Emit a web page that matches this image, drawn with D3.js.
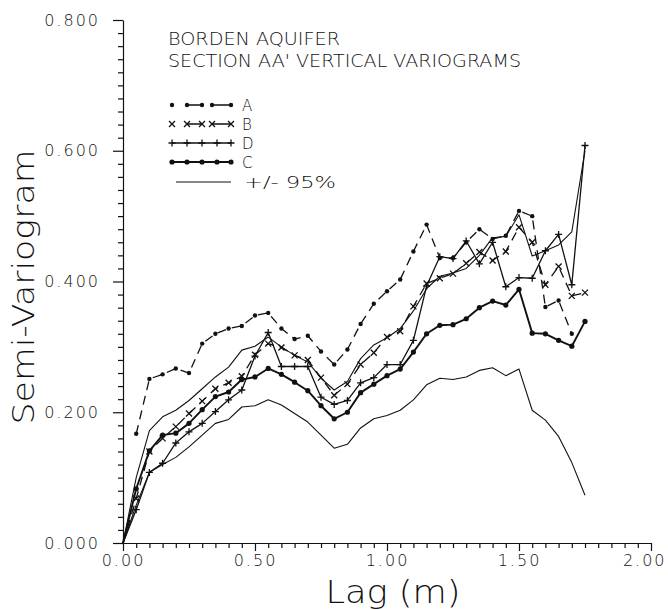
<!DOCTYPE html>
<html>
<head>
<meta charset="utf-8">
<script src="https://cdn.jsdelivr.net/npm/d3@7"></script>
<style>
  html, body { margin: 0; padding: 0; background: #fff; }
  svg { display: block; }
  text { font-family: "DejaVu Sans", "Liberation Sans", sans-serif; font-weight: 200; fill: #111; }
</style>
</head>
<body>
<svg id="chart" width="668" height="610"></svg>
<script>
// ---------------- DATA ----------------
const lags = [0.00, 0.05, 0.10, 0.15, 0.20, 0.25, 0.30, 0.35, 0.40, 0.45, 0.50, 0.55,
              0.60, 0.65, 0.70, 0.75, 0.80, 0.85, 0.90, 0.95, 1.00, 1.05, 1.10, 1.15,
              1.20, 1.25, 1.30, 1.35, 1.40, 1.45, 1.50, 1.55, 1.60, 1.65, 1.70, 1.75];

const seriesA = [null, 0.167, 0.251, 0.258, 0.267, 0.260, 0.305, 0.320, 0.328, 0.332, 0.348, 0.352,
                 0.328, 0.312, 0.317, 0.293, 0.273, 0.296, 0.335, 0.366, 0.385, 0.403, 0.446, 0.487,
                 0.436, 0.436, 0.460, 0.480, 0.465, 0.470, 0.508, 0.500, 0.361, 0.371, 0.320, null];

const seriesB = [0.000, 0.068, 0.140, 0.160, 0.178, 0.198, 0.217, 0.236, 0.245, 0.255, 0.288, 0.305,
                 0.299, 0.287, 0.280, 0.253, 0.226, 0.243, 0.273, 0.291, 0.315, 0.324, 0.362, 0.397,
                 0.405, 0.412, 0.428, 0.445, 0.432, 0.446, 0.483, 0.460, 0.395, 0.423, 0.378, 0.383];

const seriesD = [0.000, 0.051, 0.108, 0.122, 0.153, 0.170, 0.183, 0.201, 0.219, 0.234, 0.286, 0.322,
                 0.270, 0.270, 0.270, 0.223, 0.212, 0.218, 0.245, 0.253, 0.273, 0.273, 0.310, 0.393,
                 0.438, 0.435, 0.462, 0.427, 0.460, 0.392, 0.406, 0.405, 0.447, 0.472, 0.395, 0.608];

const seriesC = [0.000, 0.083, 0.141, 0.165, 0.168, 0.183, 0.204, 0.224, 0.231, 0.250, 0.254, 0.267,
                 0.258, 0.246, 0.233, 0.210, 0.190, 0.200, 0.230, 0.243, 0.256, 0.266, 0.292, 0.320,
                 0.333, 0.334, 0.343, 0.360, 0.370, 0.364, 0.388, 0.321, 0.320, 0.310, 0.301, 0.339];

const bandUpper = [0.000, 0.100, 0.172, 0.193, 0.203, 0.218, 0.236, 0.254, 0.269, 0.295, 0.301, 0.315,
                   0.300, 0.287, 0.277, 0.252, 0.234, 0.247, 0.282, 0.303, 0.314, 0.328, 0.355, 0.389,
                   0.408, 0.413, 0.420, 0.440, 0.467, 0.469, 0.502, 0.439, 0.447, 0.456, 0.476, 0.600];

const bandLower = [0.000, 0.058, 0.108, 0.120, 0.131, 0.147, 0.165, 0.183, 0.189, 0.208, 0.210, 0.219,
                   0.211, 0.198, 0.185, 0.165, 0.145, 0.151, 0.176, 0.190, 0.195, 0.203, 0.219, 0.242,
                   0.252, 0.250, 0.254, 0.264, 0.268, 0.256, 0.266, 0.203, 0.188, 0.163, 0.123, 0.073];

const xTickLabels = ["0.00", "0.50", "1.00", "1.50", "2.00"];
const yTickLabels = ["0.000", "0.200", "0.400", "0.600", "0.800"];
const legendLabels = ["A", "B", "D", "C", "+/- 95%"];
const titleLines = ["BORDEN AQUIFER", "SECTION AA' VERTICAL VARIOGRAMS"];
const xTitle = "Lag (m)";
const yTitle = "Semi-Variogram";

// ---------------- LAYOUT ----------------
const svg = d3.select("#chart");
const x = d3.scaleLinear().domain([0, 2]).range([123, 651]);
const y = d3.scaleLinear().domain([0, 0.8]).range([543, 20]);
const ink = "#111";

const xMajor = xTickLabels.map(Number);
const yMajor = yTickLabels.map(Number);
const xMinor = d3.range(0, 41).map(i => i * 0.05).filter(v => !xMajor.some(m => Math.abs(m - v) < 1e-9));
const yMinor = d3.range(0, 41).map(i => i * 0.02).filter(v => !yMajor.some(m => Math.abs(m - v) < 1e-9));

const gx = svg.append("g").attr("transform", `translate(0,${y(0)})`);
gx.call(d3.axisBottom(x).tickValues(xMajor).tickSize(8).tickSizeOuter(0)
        .tickFormat((d, i) => xTickLabels[i]).tickPadding(4));
const gxm = svg.append("g").attr("transform", `translate(0,${y(0)})`);
gxm.call(d3.axisBottom(x).tickValues(xMinor).tickSize(5).tickSizeOuter(0).tickFormat(""));
gxm.select(".domain").remove();

const gy = svg.append("g").attr("transform", `translate(${x(0)},0)`);
gy.call(d3.axisLeft(y).tickValues(yMajor).tickSize(10).tickSizeOuter(0)
        .tickFormat((d, i) => yTickLabels[i]).tickPadding(13));
const gym = svg.append("g").attr("transform", `translate(${x(0)},0)`);
gym.call(d3.axisLeft(y).tickValues(yMinor).tickSize(5).tickSizeOuter(0).tickFormat(""));
gym.select(".domain").remove();

svg.selectAll(".domain, .tick line").attr("stroke", ink).attr("stroke-width", 1.2);
[gx, gy].forEach(g => g.selectAll(".tick text")
  .attr("font-size", 16).attr("letter-spacing", 2).attr("fill", ink)
  .attr("font-family", "DejaVu Sans, Liberation Sans, sans-serif").attr("font-weight", 200));
// keep the last x label inside the picture, as in the reference
gx.selectAll(".tick text").filter((d, i) => i === xTickLabels.length - 1)
  .attr("text-anchor", "end").attr("x", 15);

// axis titles
svg.append("text").attr("x", 393).attr("y", 603).attr("text-anchor", "middle")
  .attr("font-size", 32).attr("textLength", 135).attr("lengthAdjust", "spacingAndGlyphs").text(xTitle);
svg.append("text").attr("transform", "translate(34,287) rotate(-90)").attr("text-anchor", "middle")
  .attr("font-size", 30).attr("textLength", 275).attr("lengthAdjust", "spacingAndGlyphs").text(yTitle);

// title
const titleLen = [172, 353];
titleLines.forEach((t, i) => {
  svg.append("text").attr("x", 168).attr("y", 44.5 + i * 22.5).attr("font-size", 18)
    .attr("textLength", titleLen[i]).attr("lengthAdjust", "spacingAndGlyphs").text(t);
});

// ---------------- SERIES ----------------
function pts(vals) {
  return lags.map((l, i) => ({ l, v: vals[i] }));
}
const line = d3.line().defined(d => d.v !== null).x(d => x(d.l)).y(d => y(d.v));

function marker(g, kind, cx, cy) {
  if (kind === "dot") {
    g.append("circle").attr("cx", cx).attr("cy", cy).attr("r", 2.2).attr("fill", ink);
  } else if (kind === "bigdot") {
    g.append("circle").attr("cx", cx).attr("cy", cy).attr("r", 2.6).attr("fill", ink);
  } else if (kind === "x") {
    const s = 3;
    g.append("path").attr("d", `M${cx - s},${cy - s}L${cx + s},${cy + s}M${cx - s},${cy + s}L${cx + s},${cy - s}`)
      .attr("stroke", ink).attr("stroke-width", 1.3).attr("fill", "none");
  } else if (kind === "plus") {
    const s = 3.5;
    g.append("path").attr("d", `M${cx},${cy - s}L${cx},${cy + s}M${cx - s},${cy}L${cx + s},${cy}`)
      .attr("stroke", ink).attr("stroke-width", 1.3).attr("fill", "none");
  }
}

const seriesDefs = [
  { name: "A", vals: seriesA, dash: "9,6", width: 1.3, mk: "dot" },
  { name: "B", vals: seriesB, dash: "9,6", width: 1.3, mk: "x" },
  { name: "D", vals: seriesD, dash: null, width: 1.3, mk: "plus" },
  { name: "C", vals: seriesC, dash: null, width: 1.9, mk: "bigdot" },
  { name: "upper", vals: bandUpper, dash: null, width: 1.1, mk: null },
  { name: "lower", vals: bandLower, dash: null, width: 1.1, mk: null }
];

seriesDefs.forEach(s => {
  const g = svg.append("g").attr("class", "series-" + s.name);
  const data = pts(s.vals);
  g.append("path").datum(data).attr("d", line).attr("fill", "none")
    .attr("stroke", ink).attr("stroke-width", s.width)
    .attr("stroke-linejoin", "round")
    .attr("stroke-dasharray", s.dash);
  if (s.mk) {
    data.filter(d => d.v !== null && d.l > 0).forEach(d => marker(g, s.mk, x(d.l), y(d.v)));
  }
});

// ---------------- LEGEND ----------------
const legendStyles = [
  { dash: "15,10,20", width: 1.3, mk: "dot", x1: 187, marks: [172, 187, 202, 212, 231] },
  { dash: "15,10,20", width: 1.3, mk: "x", x1: 187, marks: [172, 187, 202, 212, 231] },
  { dash: null, width: 1.3, mk: "plus", x1: 172, marks: [172, 187, 202, 217, 231] },
  { dash: null, width: 1.9, mk: "bigdot", x1: 172, marks: [172, 187, 202, 217, 231] },
  { dash: null, width: 1.1, mk: null, x1: 176, marks: [] }
];
const legendY = [105, 124, 143, 162, 182];
legendLabels.forEach((lab, i) => {
  const ly = legendY[i];
  const st = legendStyles[i];
  const g = svg.append("g");
  g.append("line").attr("x1", st.x1).attr("x2", 231).attr("y1", ly).attr("y2", ly)
    .attr("stroke", ink).attr("stroke-width", st.width).attr("stroke-dasharray", st.dash);
  st.marks.forEach(px => marker(g, st.mk, px, ly));
  const t = g.append("text").attr("x", i === 4 ? 244 : 242).attr("y", ly + 5.5).attr("font-size", 15).text(lab);
  if (i === 4) t.attr("textLength", 92).attr("lengthAdjust", "spacingAndGlyphs");
});
</script>
</body>
</html>
